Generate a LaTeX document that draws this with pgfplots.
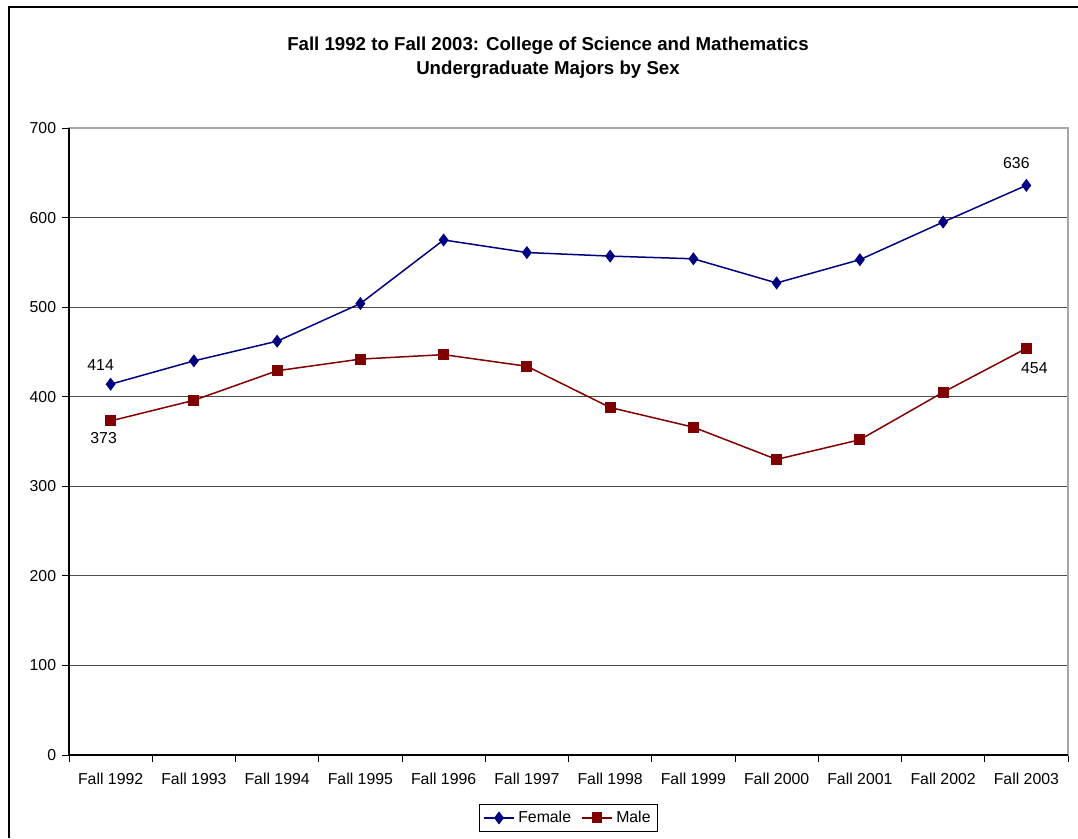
\documentclass[border=0pt]{standalone}
\usepackage{fontspec}
\setmainfont{Liberation Sans}
\usepackage{pgfplots}
\pgfplotsset{compat=1.18}
\definecolor{fem}{RGB}{0,0,128}
\definecolor{mal}{RGB}{128,0,0}
\begin{document}
\begin{tikzpicture}[x=0.6pt,y=0.6pt]
\useasboundingbox (0,0) rectangle (1078,838);
\draw[line width=1.4pt] (9,0) -- (9,831) -- (1078,831);
\node[font=\fontsize{11.2}{14.4}\selectfont\bfseries, align=center] at (548,780) {Fall 1992 to Fall 2003: College of Science and Mathematics\\Undergraduate Majors by Sex};
\begin{axis}[
  at={(41.4pt,49.8pt)}, anchor=south west,
  scale only axis, width=599.4pt, height=376.2pt,
  xmin=-0.5, xmax=11.5, ymin=0, ymax=700,
  ytick={0,100,...,700},
  xtick={0,...,11},
  xticklabels={Fall 1992,Fall 1993,Fall 1994,Fall 1995,Fall 1996,Fall 1997,Fall 1998,Fall 1999,Fall 2000,Fall 2001,Fall 2002,Fall 2003},
  minor xtick={-0.5,0.5,...,11.5},
  major x tick style={draw=none},
  tick align=outside, tick pos=left,
  major tick length=4.2pt, minor tick length=4.2pt,
  tick style={black, line width=0.5pt},
  ymajorgrids, major grid style={black!70, line width=0.6pt},
  axis line style={draw=gray!70, line width=0.8pt},
  every tick label/.append style={font=\fontsize{9.5}{11}\selectfont},
  /pgf/number format/assume math mode=true,
  xticklabel style={yshift=-3pt},
  clip=false,
  legend style={at={(0.5,-0.078)}, anchor=north, legend columns=2, draw=black,
    font=\fontsize{9.5}{11}\selectfont, inner sep=2pt,
    /tikz/every even column/.append style={column sep=4pt}},
  legend image code/.code={\draw[#1, mark repeat=2, mark phase=2] plot coordinates {(0cm,0cm) (0.32cm,0cm) (0.64cm,0cm)};},
]
\addplot[fem, line width=0.9pt, mark=diamond*, mark size=3.2pt, mark options={fill=fem, draw=fem}] coordinates {
(0,414) (1,440) (2,462) (3,504) (4,575) (5,561) (6,557) (7,554) (8,527) (9,553) (10,595) (11,636)};
\addlegendentry{Female}
\addplot[mal, line width=0.9pt, mark=square*, mark size=2.8pt, mark options={fill=mal, draw=mal}] coordinates {
(0,373) (1,396) (2,429) (3,442) (4,447) (5,434) (6,388) (7,366) (8,330) (9,352) (10,405) (11,454)};
\addlegendentry{Male}
\draw[black, line width=0.8pt] (rel axis cs:0,1) -- (rel axis cs:0,0) -- (rel axis cs:1,0);
\node[font=\fontsize{9.5}{11}\selectfont, xshift=-6pt, yshift=11.4pt] at (axis cs:0,414) {414};
\node[font=\fontsize{9.5}{11}\selectfont, xshift=-4.2pt, yshift=-10.2pt] at (axis cs:0,373) {373};
\node[font=\fontsize{9.5}{11}\selectfont, xshift=-6pt, yshift=13.2pt] at (axis cs:11,636) {636};
\node[font=\fontsize{9.5}{11}\selectfont, xshift=4.8pt, yshift=-12pt] at (axis cs:11,454) {454};
\end{axis}
\end{tikzpicture}
\end{document}
